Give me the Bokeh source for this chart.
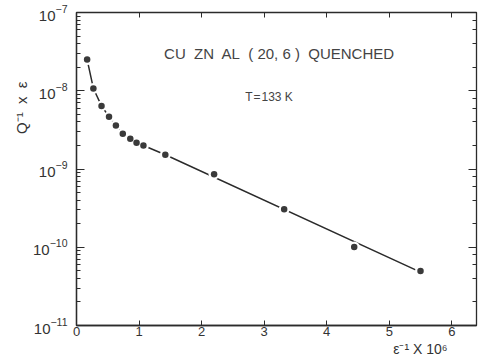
from bokeh.plotting import figure
from bokeh.models import Label, LinearAxis, LogAxis, Range1d, FixedTicker, Title
from bokeh.embed import file_html
from bokeh.resources import INLINE

# measured points: eps^-1 x 10^6 and Q^-1 x eps
eps_inv = [0.17, 0.27, 0.40, 0.52, 0.63, 0.74, 0.86, 0.96, 1.07, 1.42, 2.20, 3.32, 4.44, 5.50]
q_eps = [2.5e-8, 1.07e-8, 6.4e-9, 4.65e-9, 3.6e-9, 2.83e-9, 2.44e-9, 2.16e-9, 2.0e-9,
         1.52e-9, 8.6e-10, 3.05e-10, 1.01e-10, 4.97e-11]

# fitted curve drawn through the points
fit_x = [0.17, 0.27, 0.40, 0.52, 0.63, 0.74, 0.86, 0.96, 1.07, 1.42, 5.50]
fit_y = [2.5e-8, 1.07e-8, 6.4e-9, 4.65e-9, 3.6e-9, 2.85e-9, 2.45e-9, 2.17e-9, 2.0e-9,
         1.52e-9, 4.8e-11]

x_ticks = [0, 1, 2, 3, 4, 5, 6]
NB = "\u00a0"
title_text = f"CU{NB} ZN{NB} AL{NB} ( 20, 6 ){NB} QUENCHED"
temp_text = "T\u200a=\u200a133 K"
ylabel_text = f"Q\u207b\u00b9{NB} x{NB} \u03b5"
xlabel_text = "\u03b5\u207b\u00b9 X 10\u2076"

INK = "#2b2b2b"
FONT = "Liberation Sans"

p = figure(width=483, height=359, y_axis_type="log",
           x_range=Range1d(0, 6.395), y_range=Range1d(1e-11, 1e-7),
           output_backend="svg", toolbar_location=None,
           min_border_left=76, min_border_right=7, min_border_top=12, min_border_bottom=34)
p.background_fill_color = "white"
p.border_fill_color = "white"
p.outline_line_color = INK
p.outline_line_width = 1.3
p.grid.visible = False

# bottom axis
xa = p.xaxis[0]
xa.ticker = FixedTicker(ticks=x_ticks)
xa.major_tick_in = 5
xa.major_tick_out = 0
xa.minor_tick_line_color = None
xa.axis_line_color = INK
xa.axis_line_width = 1.3
xa.major_tick_line_color = INK
xa.major_label_text_font = FONT
xa.major_label_text_font_size = "13px"
xa.major_label_text_color = "#333333"
xa.major_label_standoff = 1

# left axis
ya = p.yaxis[0]
ya.major_tick_in = 8
ya.major_tick_out = 0
ya.minor_tick_in = 4
ya.minor_tick_out = 0
ya.axis_line_color = INK
ya.axis_line_width = 1.3
ya.major_tick_line_color = INK
ya.minor_tick_line_color = INK
ya.major_label_text_font = FONT
ya.major_label_text_font_size = "15px"
ya.major_label_text_color = "#333333"
ya.major_label_standoff = 9

# top axis (ticks only)
top = LinearAxis(ticker=FixedTicker(ticks=x_ticks), major_tick_in=5, major_tick_out=0,
                 minor_tick_line_color=None, major_label_text_font_size="1px",
                 major_label_text_color=None,
                 major_label_standoff=0, axis_line_color=INK, major_tick_line_color=INK)
p.add_layout(top, "above")

# right axis (ticks only)
right = LogAxis(major_tick_in=8, major_tick_out=0, minor_tick_in=4, minor_tick_out=0,
                major_label_text_font_size="1px", major_label_text_color=None,
                major_label_standoff=0,
                axis_line_color=INK, major_tick_line_color=INK, minor_tick_line_color=INK)
p.add_layout(right, "right")

# axis titles
p.add_layout(Title(text=ylabel_text, align="right", offset=69, text_font=FONT,
                   text_font_size="15px", text_font_style="normal",
                   text_color="#333333", standoff=2), "left")
p.add_layout(Title(text=xlabel_text, align="right", offset=29, text_font=FONT,
                   text_font_size="14px", text_font_style="normal",
                   text_color="#333333", standoff=0), "below")

# curve, with white halos around points to leave gaps
p.line(fit_x, fit_y, line_color=INK, line_width=1.5)
p.scatter(eps_inv, q_eps, size=11, fill_color="white", line_color=None)
p.scatter(eps_inv, q_eps, size=6.5, fill_color="#3a3a3a", line_color=None)

p.add_layout(Label(x=1.40, y=10 ** -7.53, text=title_text, text_font=FONT,
                   text_font_size="15px", text_color="#444444", text_baseline="middle",
                   text_align="left"))
p.add_layout(Label(x=3.078, y=10 ** -8.08, text=temp_text, text_font=FONT,
                   text_font_size="12px", text_color="#444444", text_baseline="middle",
                   text_align="center"))

open("out.html", "w").write(file_html(p, INLINE))
